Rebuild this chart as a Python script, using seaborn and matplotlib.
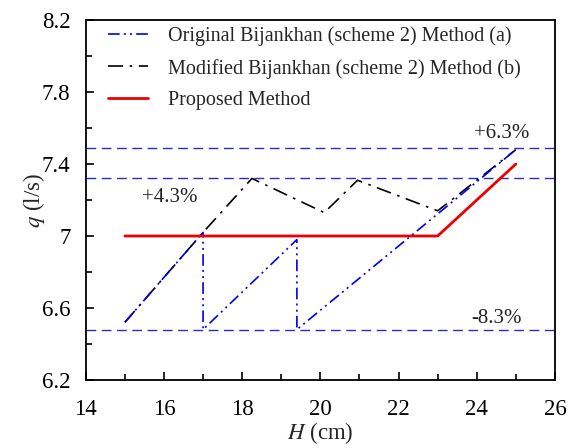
import matplotlib
matplotlib.use("Agg")
import matplotlib.pyplot as plt
import seaborn as sns
import pandas as pd
from matplotlib.ticker import MultipleLocator

sns.set_theme(style="white")
plt.rcParams['font.family'] = ['Liberation Serif', 'DejaVu Serif']
plt.rcParams['mathtext.fontset'] = 'stix'

# Data
orig_H = [15, 17, 17, 19.4, 19.4, 25]
orig_q = [6.52, 7.02, 6.48, 6.98, 6.48, 7.48]
mod_H = [15, 17, 18.25, 20.1, 20.95, 23.0, 25]
mod_q = [6.52, 7.02, 7.32, 7.13, 7.31, 7.14, 7.48]
prop_H = [15, 23, 25]
prop_q = [7.0, 7.0, 7.40]
ref_lines = [7.49, 7.32, 6.48]
labels = ["Original Bijankhan (scheme 2) Method (a)",
          "Modified Bijankhan (scheme 2) Method (b)",
          "Proposed Method"]
annots = [("+6.3%", 24.64, 7.57), ("+4.3%", 16.15, 7.215), ("-8.3%", 24.5, 6.54)]

fig = plt.figure(figsize=(5.68, 4.48), dpi=100)
ax = fig.add_axes([0.151, 0.152, 0.826, 0.803])

for y in ref_lines:
    ax.axhline(y, color='#2b2bc8', lw=1.0, ls=(0, (7, 4)), zorder=1)

df_o = pd.DataFrame({'H': orig_H, 'q': orig_q})
df_m = pd.DataFrame({'H': mod_H, 'q': mod_q})
df_p = pd.DataFrame({'H': prop_H, 'q': prop_q})

sns.lineplot(data=df_m, x='H', y='q', sort=False, estimator=None, ax=ax,
             color='black', lw=1.2, label=labels[1], zorder=2)
sns.lineplot(data=df_o, x='H', y='q', sort=False, estimator=None, ax=ax,
             color='#0000ee', lw=1.2, label=labels[0], zorder=3)
sns.lineplot(data=df_p, x='H', y='q', sort=False, estimator=None, ax=ax,
             color='#ee0000', lw=2.0, label=labels[2], zorder=4)
lines = ax.get_lines()
lines[3].set_linestyle((0, (9, 4, 1.5, 4)))
lines[4].set_linestyle((0, (7, 2.5, 1.2, 2.5, 1.2, 2.5)))

ax.set_xlim(14, 26)
ax.set_ylim(6.2, 8.2)
ax.xaxis.set_major_locator(MultipleLocator(2))
ax.xaxis.set_minor_locator(MultipleLocator(1))
ax.yaxis.set_minor_locator(MultipleLocator(0.2))
ax.set_yticks([6.2, 6.6, 7.0, 7.4, 7.8, 8.2])
ax.set_yticklabels(['6.2', '6.6', '7', '7.4', '7.8', '8.2'])
ax.tick_params(which='both', direction='in', left=True, bottom=True,
               top=False, right=False, labelsize=16.5, colors='black')
ax.tick_params(axis='x', pad=14)
ax.tick_params(axis='y', pad=11)
ax.tick_params(which='major', length=6, width=1.2)
ax.tick_params(which='minor', length=4, width=1.2)
for s in ax.spines.values():
    s.set_color('black')
    s.set_linewidth(1.3)

ax.set_xlabel(r'$H$ (cm)', fontsize=16.5, labelpad=0)
ax.set_ylabel(r'$q$ (l/s)', fontsize=16.5, labelpad=-4)

for t, x, y in annots:
    ax.text(x, y, t, fontsize=15, ha='center', va='center', color='#222222')

h, l = ax.get_legend_handles_labels()
order = [1, 0, 2]
ax.legend([h[i] for i in order], [l[i] for i in order], loc='upper left',
          frameon=False, fontsize=14.5, handlelength=2.0, borderaxespad=0.0,
          labelspacing=0.62, handletextpad=1.0, bbox_to_anchor=(0.03, 1.005))

fig.savefig('out.png', dpi=100)
